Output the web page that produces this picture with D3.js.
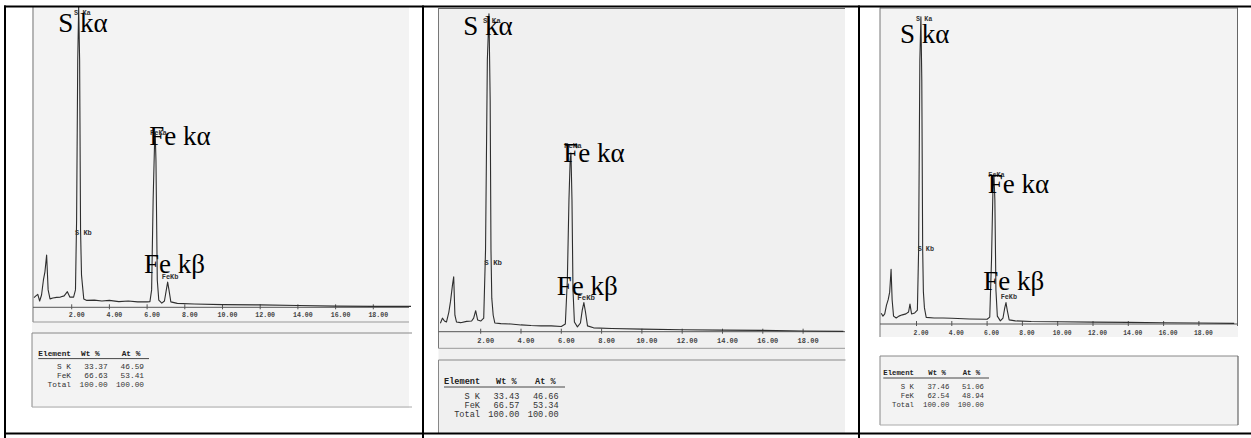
<!DOCTYPE html>
<html><head><meta charset="utf-8">
<script src="https://cdn.jsdelivr.net/npm/d3@7"></script>
<style>body{margin:0;background:#fff}svg{display:block}</style>
</head><body>
<svg id="c" width="1251" height="438"></svg>
<script>
// ---------- data ----------
const energyTicks = [2,4,6,8,10,12,14,16,18];
const tickLabels = ["2.00","4.00","6.00","8.00","10.00","12.00","14.00","16.00","18.00"];

const p1Energy = [0,0.1,0.2,0.3,0.4,0.5,0.58,0.67,0.75,0.85,1.0,1.2,1.4,1.6,1.77,1.9,2.1,2.2,2.26,2.32,2.37,2.42,2.47,2.52,2.57,2.64,2.8,3.2,3.6,4.0,4.5,5.0,5.5,6.0,6.15,6.24,6.32,6.4,6.43,6.47,6.54,6.62,6.78,6.92,7.02,7.09,7.16,7.26,7.6,8.5,10,12,14,16,18,20];
const p1Counts = [32,38,43,21,41,91,118,174,58,28,31,33,34,38,52,34,34,58,291,823,1000,823,257,108,74,28,23,24,21,23,19,21,18,18,19,58,357,557,580,490,91,24,14,21,58,84,58,18,13,11,9,8,6,4,3,3];

const p2Energy = [0,0.1,0.2,0.3,0.42,0.5,0.6,0.66,0.72,0.8,1.0,1.3,1.55,1.65,1.75,1.85,2.0,2.15,2.24,2.33,2.41,2.47,2.51,2.55,2.62,2.7,3.0,3.5,4.0,4.5,5.0,5.5,6.0,6.2,6.3,6.38,6.44,6.48,6.53,6.58,6.65,6.8,6.95,7.04,7.12,7.2,7.3,7.6,8.5,10,12,14,16,18,20];
const p2Counts = [26,42,33,30,61,93,145,170,51,30,28,32,33,42,65,36,33,42,253,842,985,718,253,104,51,27,25,24,21,19,18,18,16,24,160,408,532,554,408,129,30,15,27,67,90,61,18,12,10,8,6,5,4,2,1];

const p3Energy = [0,0.1,0.2,0.3,0.4,0.48,0.56,0.62,0.7,0.85,1.0,1.2,1.4,1.55,1.63,1.72,1.9,2.05,2.12,2.19,2.25,2.3,2.35,2.39,2.45,2.55,3.0,3.5,4.0,5.0,6.0,6.15,6.25,6.33,6.39,6.44,6.5,6.58,6.75,6.9,7.0,7.07,7.14,7.25,7.6,8.5,10,12,14,16,18,20];
const p3Counts = [34,25,32,60,78,101,173,76,25,19,25,29,32,38,63,32,35,44,235,837,974,773,235,102,51,21,19,19,18,16,15,22,203,425,472,393,108,25,10,19,51,68,44,13,10,8,7,6,5,4,3,2];

const peakLabels = ["S Ka","S Kb","FeKa","FeKb"];
const lineLabels = ["S k\u03B1","Fe k\u03B1","Fe k\u03B2"];

const tableHeader = ["Element","Wt %","At %"];
const elements = ["S K","FeK","Total"];
const p1Wt = [33.37,66.63,100.00], p1At = [46.59,53.41,100.00];
const p2Wt = [33.43,66.57,100.00], p2At = [46.66,53.34,100.00];
const p3Wt = [37.46,62.54,100.00], p3At = [51.06,48.94,100.00];

// ---------- layout ----------
const panels = [
  { E:p1Energy, C:p1Counts, wt:p1Wt, at:p1At, bg:"#f3f3f3",
    img:{x:32,y:6,w:377,h:402}, xr:[34,411], axisY:307.3, top:7, leftX:33, rightX:409,
    rightBorder:false, topLine:false, frameBottom:322, tickY:315, tickDx:5, tickFont:6.6,
    table:{x:32,y:333,w:380,h:74,right:false, font:7.8, ex:38.3, hy:355.6, wx:81, ax:121.7, uy:358.6, ux2:149,
           rows:[369.3,378,387], lr:71, wr:107.7, ar:144},
    big:[[58.3,31.7],[149.3,145],[144,273.3]],
    small:[[74,13],[75,233],[150,133],[161.7,276.7]], smallFont:7 },
  { E:p2Energy, C:p2Counts, wt:p2Wt, at:p2At, bg:"#f0f0f0",
    img:{x:438.5,y:8,w:406.5,h:426}, xr:[440.4,843.4], axisY:331.7, top:9, leftX:438.5, rightX:845,
    rightBorder:false, topLine:true, frameBottom:348.3, tickY:340.7, tickDx:5, tickFont:7,
    table:{x:438.5,y:360,w:407,h:80,right:false, font:8.6, ex:444, hy:383.6, wx:496, ax:535, uy:387, ux2:565,
           rows:[398.6,407.9,417.2], lr:480, wr:519.3, ar:558.7},
    big:[[463.3,35],[563.3,162.3],[556.7,295]],
    small:[[483,20.7],[484.3,262.3],[564,145.3],[577.3,297.3]], smallFont:7.4 },
  { E:p3Energy, C:p3Counts, wt:p3Wt, at:p3At, bg:"#f3f3f3",
    img:{x:880,y:8,w:358,h:329}, xr:[881.2,1234.2], axisY:324, top:8.5, leftX:880, rightX:1237.5,
    rightBorder:true, topLine:true, frameBottom:null, tickY:332.7, tickDx:4.5, tickFont:6.3,
    table:{x:880,y:356,w:358,h:69,right:true, font:7.3, ex:883.3, hy:374.9, wx:928.3, ax:962.7, uy:378, ux2:989,
           rows:[389.2,398.2,406.8], lr:914, wr:949.3, ar:984},
    big:[[900,42.7],[987.7,192.7],[983.3,290]],
    small:[[916,18.3],[917.7,248.3],[988.3,174.3],[1000.7,296.7]], smallFont:6.8 }
];

const svg = d3.select("#c");
svg.append("rect").attr("width",1251).attr("height",438).attr("fill","#fff");

const mono = "'Liberation Mono','DejaVu Sans Mono',monospace";
const serif = "'Liberation Serif','Times New Roman',serif";

panels.forEach(p => {
  const g = svg.append("g");
  // image background
  g.append("rect").attr("x",p.img.x).attr("y",p.img.y).attr("width",p.img.w).attr("height",p.img.h).attr("fill",p.bg);
  if (p.frameBottom === null) {
    // white gap between plot and table in panel 3
    g.append("rect").attr("x",p.img.x).attr("y",p.table.y).attr("width",p.table.w).attr("height",p.table.h).attr("fill",p.bg);
  }
  const x = d3.scaleLinear().domain([0,20]).range(p.xr);
  const y = d3.scaleLinear().domain([0,1000]).range([p.axisY, p.top]);

  // frame
  const frameCol = "#777";
  g.append("line").attr("x1",p.leftX).attr("x2",p.leftX).attr("y1",p.top-1).attr("y2",p.frameBottom||p.axisY+13)
    .attr("stroke",frameCol).attr("stroke-width",1);
  if (p.topLine) g.append("line").attr("x1",p.leftX).attr("x2",p.rightX).attr("y1",p.top-0.5).attr("y2",p.top-0.5)
    .attr("stroke","#666").attr("stroke-width",1.2);
  if (p.rightBorder) g.append("line").attr("x1",p.rightX).attr("x2",p.rightX).attr("y1",p.top-1).attr("y2",p.axisY+2)
    .attr("stroke","#666").attr("stroke-width",1);
  if (p.frameBottom) g.append("line").attr("x1",p.leftX).attr("x2",p.rightX).attr("y1",p.frameBottom).attr("y2",p.frameBottom)
    .attr("stroke","#999").attr("stroke-width",1);

  // axis
  g.append("line").attr("x1",p.leftX).attr("x2",p.rightX).attr("y1",p.axisY).attr("y2",p.axisY)
    .attr("stroke","#555").attr("stroke-width",1);
  g.selectAll(".tk").data(energyTicks).enter().append("line")
    .attr("x1",d=>x(d)).attr("x2",d=>x(d)).attr("y1",p.axisY-3).attr("y2",p.axisY+2)
    .attr("stroke","#555").attr("stroke-width",1);
  g.selectAll(".tl").data(energyTicks).enter().append("text")
    .attr("x",d=>x(d)+p.tickDx).attr("y",p.tickY).attr("dy","0.35em")
    .attr("text-anchor","middle").attr("font-family",mono).attr("font-size",p.tickFont)
    .attr("font-weight","bold").attr("fill","#444").text((d,i)=>tickLabels[i]);

  // spectrum
  const pts = p.E.map((e,i)=>[e,p.C[i]]);
  g.append("path").datum(pts)
    .attr("d", d3.line().x(d=>x(d[0])).y(d=>y(d[1])))
    .attr("fill","none").attr("stroke","#2e2e2e").attr("stroke-width",1.1).attr("stroke-linejoin","round");

  // small peak labels
  p.small.forEach((s,i)=>{
    g.append("text").attr("x",s[0]).attr("y",s[1]).attr("dy","0.35em")
      .attr("font-family",mono).attr("font-size",p.smallFont).attr("font-weight","bold").attr("fill","#333")
      .text(peakLabels[i]);
  });
  // big labels
  p.big.forEach((b,i)=>{
    g.append("text").attr("x",b[0]).attr("y",b[1])
      .attr("font-family",serif).attr("font-size",27).attr("fill","#000")
      .text(lineLabels[i]);
  });

  // table box
  const t = p.table;
  const tb = g.append("g");
  tb.append("line").attr("x1",t.x).attr("x2",t.x+t.w).attr("y1",t.y).attr("y2",t.y).attr("stroke","#888").attr("stroke-width",1);
  tb.append("line").attr("x1",t.x).attr("x2",t.x).attr("y1",t.y).attr("y2",t.y+t.h).attr("stroke","#888").attr("stroke-width",1);
  tb.append("line").attr("x1",t.x).attr("x2",t.x+t.w).attr("y1",t.y+t.h).attr("y2",t.y+t.h).attr("stroke","#aaa").attr("stroke-width",1);
  if (t.right) tb.append("line").attr("x1",t.x+t.w).attr("x2",t.x+t.w).attr("y1",t.y).attr("y2",t.y+t.h).attr("stroke","#666").attr("stroke-width",1.2);

  const hx = [t.ex,t.wx,t.ax];
  tableHeader.forEach((h,i)=>{
    tb.append("text").attr("x",hx[i]).attr("y",t.hy).attr("font-family",mono).attr("font-size",t.font)
      .attr("font-weight","bold").attr("fill","#222").text(h);
  });
  tb.append("line").attr("x1",t.ex).attr("x2",t.ux2).attr("y1",t.uy).attr("y2",t.uy).attr("stroke","#333").attr("stroke-width",0.9);
  elements.forEach((el,i)=>{
    const ry = t.rows[i];
    tb.append("text").attr("x",t.lr).attr("y",ry).attr("text-anchor","end").attr("font-family",mono)
      .attr("font-size",t.font).attr("fill","#333").text(el);
    tb.append("text").attr("x",t.wr).attr("y",ry).attr("text-anchor","end").attr("font-family",mono)
      .attr("font-size",t.font).attr("fill","#333").text(p.wt[i].toFixed(2));
    tb.append("text").attr("x",t.ar).attr("y",ry).attr("text-anchor","end").attr("font-family",mono)
      .attr("font-size",t.font).attr("fill","#333").text(p.at[i].toFixed(2));
  });
});

// outer table borders (drawn last)
const bw = 2;
svg.append("rect").attr("x",0).attr("y",433).attr("width",1251).attr("height",5).attr("fill","#fff");
[[4,1251,6.5],[4,1251,433.5]].forEach(h=>{
  svg.append("line").attr("x1",h[0]).attr("x2",h[1]).attr("y1",h[2]).attr("y2",h[2]).attr("stroke","#000").attr("stroke-width",bw);
});
[5,423,859].forEach(vx=>{
  svg.append("line").attr("x1",vx).attr("x2",vx).attr("y1",5.5).attr("y2",438).attr("stroke","#000").attr("stroke-width",bw);
});
</script>
</body></html>
